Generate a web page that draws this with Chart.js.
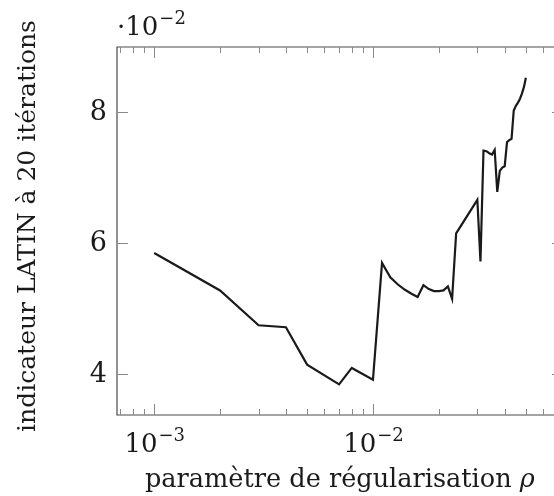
<!DOCTYPE html>
<html>
<head>
<meta charset="utf-8">
<script src="https://cdn.jsdelivr.net/npm/chart.js@4.4.1/dist/chart.umd.min.js"></script>
<style>
  html, body { margin: 0; padding: 0; background: #fff; overflow: hidden; }
  #wrap { width: 554px; height: 496px; overflow: hidden; position: relative; }
  #latinChart { display: block; }
</style>
</head>
<body>
<div id="wrap"><canvas id="latinChart" width="570" height="496"></canvas></div>
<script>
// rho values (x, log scale)
const rhoValues = [
  0.001, 0.002, 0.003, 0.004, 0.005, 0.007, 0.008, 0.010,
  0.011, 0.012, 0.013, 0.014, 0.015, 0.016, 0.017, 0.018, 0.019, 0.020,
  0.021, 0.022, 0.023, 0.024, 0.030, 0.031, 0.032, 0.033, 0.034, 0.035,
  0.036, 0.037, 0.038, 0.039, 0.040, 0.041, 0.042, 0.043, 0.044, 0.045,
  0.046, 0.047, 0.048, 0.049, 0.050,
];

// indicateur LATIN a 20 iterations
const indicatorValues = [
  0.0585, 0.0528, 0.0475, 0.0472, 0.0415, 0.0385, 0.0410, 0.0392,
  0.0570, 0.0548, 0.0537, 0.0529, 0.0523, 0.0518, 0.0536, 0.0530, 0.0527, 0.0527,
  0.0528, 0.0534, 0.0515, 0.0615, 0.0666, 0.0572, 0.0741, 0.0740, 0.0737, 0.0735,
  0.0742, 0.0678, 0.0710, 0.0715, 0.0717, 0.0754, 0.0757, 0.0759, 0.0802, 0.0809,
  0.0814, 0.0820, 0.0828, 0.0838, 0.0852,
];

const yTickValues = [0.04, 0.06, 0.08];
const yTickLabels = ["4", "6", "8"];
const xMajorTicks = [0.001, 0.01];
const xMajorExponents = ["\u22123", "\u22122"];
const yMultiplierBase = "\u00b710";
const yMultiplierExponent = "\u22122";
const xTitle = "paramètre de régularisation ";
const xTitleSymbol = "\u03c1";
const yTitle = "indicateur LATIN à 20 itérations";

const FONT = "'DejaVu Serif', serif";

function minorLogTicks(min, max) {
  const ticks = [];
  for (let e = Math.floor(Math.log10(min)); e <= Math.ceil(Math.log10(max)); e++) {
    for (let k = 2; k <= 9; k++) {
      const v = k * Math.pow(10, e);
      if (v > min && v < max) ticks.push(v);
    }
  }
  return ticks;
}

function fitFont(ctx, text, targetWidth, style) {
  ctx.font = `${style}100px ${FONT}`;
  const w = ctx.measureText(text).width;
  return (100 * targetWidth) / w;
}

const axisDecorations = {
  id: "axisDecorations",
  afterDraw(chart) {
    const { ctx, chartArea } = chart;
    const xScale = chart.scales.x;
    const yScale = chart.scales.y;
    const { left, right, top, bottom } = chartArea;

    ctx.save();

    // frame (right side lies outside the visible crop)
    ctx.strokeStyle = "#4a4a4a";
    ctx.lineWidth = 1.2;
    ctx.beginPath();
    ctx.moveTo(right, top);
    ctx.lineTo(left, top);
    ctx.lineTo(left, bottom);
    ctx.lineTo(right, bottom);
    ctx.stroke();

    // ticks (inward, mirrored)
    ctx.strokeStyle = "#8a8a8a";
    ctx.lineWidth = 1;
    ctx.beginPath();
    minorLogTicks(xScale.min, xScale.max).forEach((v) => {
      const px = Math.round(xScale.getPixelForValue(v)) + 0.5;
      ctx.moveTo(px, bottom); ctx.lineTo(px, bottom - 6);
      ctx.moveTo(px, top); ctx.lineTo(px, top + 6);
    });
    xMajorTicks.forEach((v) => {
      const px = Math.round(xScale.getPixelForValue(v)) + 0.5;
      ctx.moveTo(px, bottom); ctx.lineTo(px, bottom - 11);
      ctx.moveTo(px, top); ctx.lineTo(px, top + 11);
    });
    yTickValues.forEach((v) => {
      const py = Math.round(yScale.getPixelForValue(v)) + 0.5;
      ctx.moveTo(left, py); ctx.lineTo(left + 11, py);
      ctx.moveTo(right, py); ctx.lineTo(right - 11, py);
    });
    ctx.stroke();

    ctx.fillStyle = "#1a1a1a";

    // y tick labels
    ctx.font = `27px ${FONT}`;
    ctx.textAlign = "right";
    ctx.textBaseline = "middle";
    yTickValues.forEach((v, i) => {
      ctx.fillText(yTickLabels[i], left - 10, yScale.getPixelForValue(v) + 1);
    });

    // x tick labels 10^e
    ctx.textBaseline = "alphabetic";
    ctx.textAlign = "left";
    xMajorTicks.forEach((v, i) => {
      ctx.font = `26px ${FONT}`;
      const baseW = ctx.measureText("10").width;
      ctx.font = `18px ${FONT}`;
      const expW = ctx.measureText(xMajorExponents[i]).width;
      const x0 = xScale.getPixelForValue(v) - (baseW + expW) / 2;
      ctx.font = `26px ${FONT}`;
      ctx.fillText("10", x0, 452);
      ctx.font = `18px ${FONT}`;
      ctx.fillText(xMajorExponents[i], x0 + baseW + 1, 441);
    });

    // multiplier at top-left
    ctx.font = `26px ${FONT}`;
    ctx.fillText(yMultiplierBase, left, 35);
    const mw = ctx.measureText(yMultiplierBase).width;
    ctx.font = `18px ${FONT}`;
    ctx.fillText(yMultiplierExponent, left + mw + 1, 24);

    // x title
    ctx.font = `26px ${FONT}`;
    const mainW = ctx.measureText(xTitle).width;
    ctx.font = `italic 26px ${FONT}`;
    const symW = ctx.measureText(xTitleSymbol).width;
    const xSize = (26 * 390) / (mainW + symW);
    ctx.font = `${xSize}px ${FONT}`;
    const mainW2 = ctx.measureText(xTitle).width;
    const startX = 340 - 195;
    ctx.fillText(xTitle, startX, 487);
    ctx.font = `italic ${xSize}px ${FONT}`;
    ctx.fillText(xTitleSymbol, startX + mainW2, 487);

    // y title (rotated)
    const ySize = fitFont(ctx, yTitle, 412, "");
    ctx.translate(35, 226);
    ctx.rotate(-Math.PI / 2);
    ctx.font = `${ySize}px ${FONT}`;
    ctx.textAlign = "center";
    ctx.fillText(yTitle, 0, 0);

    ctx.restore();
  },
};

function renderLatinChart() {
  const canvas = document.querySelector("#latinChart");
  if (!(canvas instanceof HTMLCanvasElement) || typeof Chart === "undefined") {
    return;
  }

  const points = rhoValues.map((rho, i) => ({ x: rho, y: indicatorValues[i] }));

  new Chart(canvas, {
    type: "line",
    data: {
      datasets: [
        {
          label: "indicateur LATIN",
          data: points,
          borderColor: "#1a1a1a",
          borderWidth: 2.2,
          pointRadius: 0,
          tension: 0,
          fill: false,
        },
      ],
    },
    options: {
      responsive: false,
      animation: false,
      layout: {
        padding: { left: 117, top: 47, right: 7, bottom: 81 },
      },
      plugins: {
        legend: { display: false },
        tooltip: { enabled: false },
      },
      scales: {
        x: {
          type: "logarithmic",
          min: 6.76e-4,
          max: 0.0739,
          display: false,
        },
        y: {
          type: "linear",
          min: 0.03383,
          max: 0.08987,
          display: false,
        },
      },
    },
    plugins: [axisDecorations],
  });
}

renderLatinChart();
</script>
</body>
</html>
